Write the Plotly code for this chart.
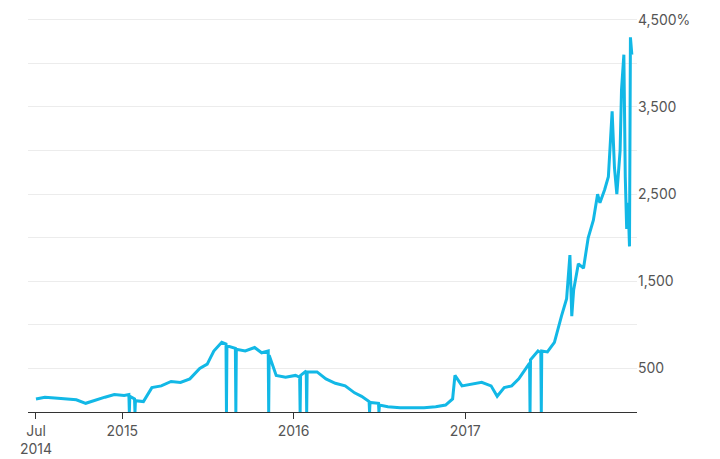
import plotly.graph_objects as go

dates = [
    "2014-07-01", "2014-07-20", "2014-08-10", "2014-09-01", "2014-09-25", "2014-10-15",
    "2014-11-05", "2014-11-25", "2014-12-15", "2015-01-05", "2015-01-15", "2015-01-16",
    "2015-01-17", "2015-01-27", "2015-01-28", "2015-01-29", "2015-02-15", "2015-03-05",
    "2015-03-25", "2015-04-15", "2015-05-05", "2015-05-25", "2015-06-15", "2015-07-01",
    "2015-07-15", "2015-08-01", "2015-08-10", "2015-08-11", "2015-08-12", "2015-08-25",
    "2015-08-30", "2015-08-31", "2015-09-01", "2015-09-20", "2015-10-10", "2015-10-25",
    "2015-11-08", "2015-11-09", "2015-11-10", "2015-11-25", "2015-12-15", "2016-01-05",
    "2016-01-14", "2016-01-15", "2016-01-16", "2016-01-28", "2016-01-29", "2016-01-30",
    "2016-02-20", "2016-03-10", "2016-03-30", "2016-04-20", "2016-05-10", "2016-05-25",
    "2016-06-10", "2016-06-11", "2016-06-12", "2016-06-30", "2016-07-01", "2016-07-02",
    "2016-07-20", "2016-08-15", "2016-09-10", "2016-10-05", "2016-10-30", "2016-11-20",
    "2016-12-05", "2016-12-10", "2016-12-25", "2017-01-15", "2017-02-05", "2017-02-25",
    "2017-03-10", "2017-03-25", "2017-04-10", "2017-04-25", "2017-05-10", "2017-05-18",
    "2017-05-19", "2017-05-20", "2017-06-05", "2017-06-11", "2017-06-12", "2017-06-13",
    "2017-06-25", "2017-07-10", "2017-07-25", "2017-08-05", "2017-08-12", "2017-08-16",
    "2017-08-20", "2017-08-30", "2017-09-10", "2017-09-20", "2017-10-01", "2017-10-10",
    "2017-10-15", "2017-10-25", "2017-11-02", "2017-11-06", "2017-11-10", "2017-11-15",
    "2017-11-20", "2017-11-27", "2017-11-30", "2017-12-05", "2017-12-08", "2017-12-11",
    "2017-12-14", "2017-12-17", "2017-12-19", "2017-12-22",
]
values = [
    150, 170, 160, 150, 140, 100,
    140, 170, 200, 190, 200, 0,
    180, 150, 0, 130, 120, 280,
    300, 350, 340, 380, 500, 550,
    700, 800, 780, 0, 760, 740,
    730, 0, 720, 700, 740, 680,
    700, 0, 650, 420, 400, 420,
    400, 0, 420, 470, 0, 460,
    460, 380, 330, 300, 220, 180,
    120, 0, 110, 100, 0, 80,
    60, 50, 50, 50, 60, 80,
    150, 420, 300, 320, 340, 300,
    180, 280, 300, 380, 500, 560,
    0, 600, 700, 680, 0, 700,
    690, 800, 1100, 1300, 1800, 1100,
    1400, 1700, 1650, 2000, 2200, 2500,
    2400, 2550, 2700, 3100, 3450, 2800,
    2500, 3000, 3700, 4100, 2700, 2100,
    2400, 1900, 4300, 4100,
]

line_color = "#12b8e6"
grid_color = "#ececec"
text_color = "#555555"

fig = go.Figure(go.Scatter(
    x=dates, y=values, mode="lines",
    line=dict(color=line_color, width=3),
    hoverinfo="skip",
))

fig.update_layout(
    width=720, height=459,
    margin=dict(l=20, r=91, t=4, b=55),
    paper_bgcolor="white", plot_bgcolor="white",
    showlegend=False,
    font=dict(family="Inter, Roboto, sans-serif", size=14, color=text_color),
)
fig.update_xaxes(
    range=["2014-06-14", "2018-01-02"], automargin=False,
    tickvals=["2014-07-01", "2015-01-01", "2016-01-01", "2017-01-01"],
    ticktext=["Jul<br>2014", "2015", "2016", "2017"],
    ticks="outside", ticklen=6, tickcolor="#333", showgrid=False,
    showline=True, linecolor="#333", linewidth=1, zeroline=False,
)
fig.update_yaxes(
    side="right", range=[0, 4590], automargin=False,
    tickvals=[0, 500, 1000, 1500, 2000, 2500, 3000, 3500, 4000, 4500],
    ticktext=["", "500", "", "1,500", "", "2,500", "", "3,500", "", "4,500%"],
    showgrid=True, gridcolor=grid_color, zeroline=False,
)

fig.write_html("out.html")
